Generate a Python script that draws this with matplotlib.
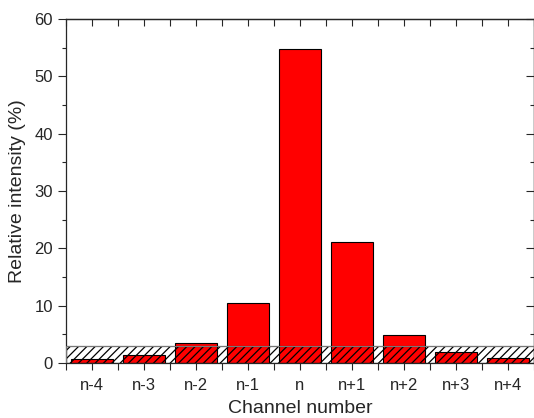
import matplotlib
matplotlib.use("Agg")
import matplotlib.pyplot as plt
from matplotlib.ticker import MultipleLocator, FixedLocator, NullFormatter

channels = ["n-4", "n-3", "n-2", "n-1", "n", "n+1", "n+2", "n+3", "n+4"]
intensity = [0.7, 1.4, 3.4, 10.5, 54.8, 21.1, 4.8, 2.0, 0.8]
noise_level = 2.9

plt.rcParams['font.family'] = ['Liberation Sans', 'DejaVu Sans']
plt.rcParams['hatch.linewidth'] = 0.9

fig = plt.figure(figsize=(5.34, 4.18), dpi=100)
ax = fig.add_axes([0.1236, 0.1316, 0.876, 0.8229])

x = list(range(1, len(channels) + 1))
ax.bar(x, intensity, width=0.8, color='#ff0000', edgecolor='black', linewidth=0.8, zorder=2)
# hatched noise band over the bars
ax.bar(5, noise_level, width=9, color='none', edgecolor='black', hatch='////',
       linewidth=0.8, zorder=3)
ax.bar(5, noise_level, width=9, color='none', edgecolor='#777777', linewidth=0.8, zorder=4)

ax.set_xlim(0.5, 9.5)
ax.set_ylim(0, 60)
ax.set_xticks(x)
ax.set_xticklabels(channels)
bounds = [i + 0.5 for i in range(0, 10)]
ax.xaxis.set_minor_locator(FixedLocator(bounds))
ax.yaxis.set_major_locator(MultipleLocator(10))
ax.yaxis.set_minor_locator(MultipleLocator(5))

ink = '#262626'
ax.tick_params(axis='both', which='both', direction='out', labelsize=12, width=0.8, colors=ink)
ax.tick_params(axis='x', which='both', length=5, pad=6)
ax.tick_params(axis='y', which='major', length=6)
ax.tick_params(axis='y', which='minor', length=3)
for s in ax.spines.values():
    s.set_linewidth(0.9)
    s.set_color(ink)

# inward ticks on the top and right frame
top = ax.secondary_xaxis('top')
top.set_xticks(x)
top.xaxis.set_minor_locator(FixedLocator(bounds))
top.xaxis.set_major_formatter(NullFormatter())
top.tick_params(which='both', direction='in', length=5, width=0.8, colors=ink)
right = ax.secondary_yaxis('right')
right.yaxis.set_major_locator(MultipleLocator(10))
right.yaxis.set_minor_locator(MultipleLocator(5))
right.yaxis.set_major_formatter(NullFormatter())
right.tick_params(which='major', direction='in', length=6, width=0.8, colors=ink)
right.tick_params(which='minor', direction='in', length=3, width=0.8, colors=ink)
for sa in (top, right):
    for s in sa.spines.values():
        s.set_linewidth(0.9)
        s.set_color(ink)

ax.set_xlabel("Channel number", fontsize=14, color=ink, labelpad=5)
ax.set_ylabel("Relative intensity (%)", fontsize=14, color=ink, labelpad=6)

fig.savefig("out.png", dpi=100)
